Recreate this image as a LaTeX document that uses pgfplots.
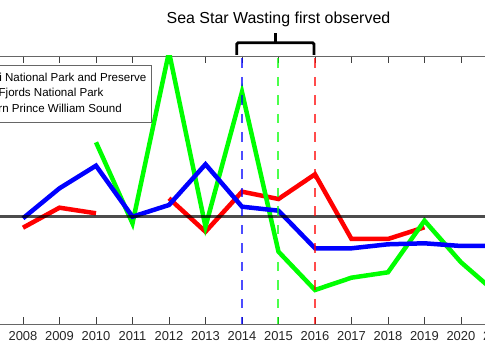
\documentclass[border=0pt]{standalone}
\usepackage{pgfplots}
\pgfplotsset{compat=1.18}
\usepackage{fontspec}
\setmainfont{Liberation Sans}
\begin{document}
\begin{tikzpicture}
\begin{axis}[
  x=36.5bp, y=50bp,
  xmin=2007, xmax=2021, ymin=-2.146, ymax=3.22,
  clip mode=individual,
  unbounded coords=jump,
  axis line style={black!60, line width=0.8bp},
  xtick={2008,...,2021},
  ytick=\empty,
  /pgf/number format/1000 sep={},
  /pgf/number format/assume math mode=true,
  xticklabel style={font=\fontsize{13}{15}\selectfont, text=black!85, yshift=-4bp},
  major tick length=7bp,
  tick style={black!75, line width=0.8bp},
  tick align=inside,
  xtick pos=both,
  legend cell align=left,
  legend style={at={(0.3239,0.9665)}, anchor=north east, draw=black!60, line width=0.6bp,
    font=\fontsize{11.6}{14}\selectfont, row sep=2.5bp, inner xsep=4.3bp, inner ysep=6.7bp,
    nodes={inner sep=1bp, text height=8.5bp, text depth=2.5bp}},
]
\addplot[red, line width=4.5bp] coordinates {(2008,-0.214) (2009,0.186) (2010,0.074) (2011,nan) (2012,0.374) (2013,-0.294) (2014,0.506) (2015,0.36) (2016,0.854) (2017,-0.44) (2018,-0.44) (2019,-0.206)};
\addplot[green, line width=4.5bp] coordinates {(2010,1.494) (2011,-0.126) (2012,3.3) (2013,-0.194) (2014,2.5) (2015,-0.694) (2016,-1.46) (2017,-1.214) (2018,-1.106) (2019,-0.074) (2020,-0.906) (2021,-1.54)};
\addplot[blue, line width=4.5bp] coordinates {(2008,-0.026) (2009,0.574) (2010,1.026) (2011,0.006) (2012,0.24) (2013,1.054) (2014,0.206) (2015,0.126) (2016,-0.626) (2017,-0.626) (2018,-0.546) (2019,-0.526) (2020,-0.58) (2021,-0.58)};
\legend{Katmai National Park and Preserve, Kenai Fjords National Park, Western Prince William Sound}
\addplot[black, opacity=0.7, line width=3bp, forget plot] coordinates {(2007,0) (2021,0)};
\addplot[blue, opacity=0.7, line width=2bp, dash pattern=on 9.5bp off 9bp, dash phase=16.2bp, forget plot] coordinates {(2014,3.22) (2014,-2.146)};
\addplot[green, opacity=0.7, line width=2bp, dash pattern=on 9.5bp off 9bp, dash phase=16.2bp, forget plot] coordinates {(2015,3.22) (2015,-2.146)};
\addplot[red, opacity=0.7, line width=2bp, dash pattern=on 9.5bp off 9bp, dash phase=16.2bp, forget plot] coordinates {(2016,3.22) (2016,-2.146)};
\draw[line width=2.8bp, rounded corners=1.5bp] (axis cs:2013.855,3.24) -- (axis cs:2013.855,3.486) -- (axis cs:2015.973,3.486) -- (axis cs:2015.973,3.24);
\draw[line width=2.8bp] (axis cs:2014.923,3.486) -- (axis cs:2014.923,3.686);
\node[anchor=base, font=\fontsize{16}{19}\selectfont, inner sep=0pt] at (axis cs:2015,3.86) {Sea Star Wasting first observed};
\coordinate (bbl) at (axis cs:2007.370,-2.86);
\coordinate (btr) at (axis cs:2020.658,4.34);
\end{axis}
\pgfresetboundingbox
\useasboundingbox (bbl) rectangle (btr);
\end{tikzpicture}
\end{document}
